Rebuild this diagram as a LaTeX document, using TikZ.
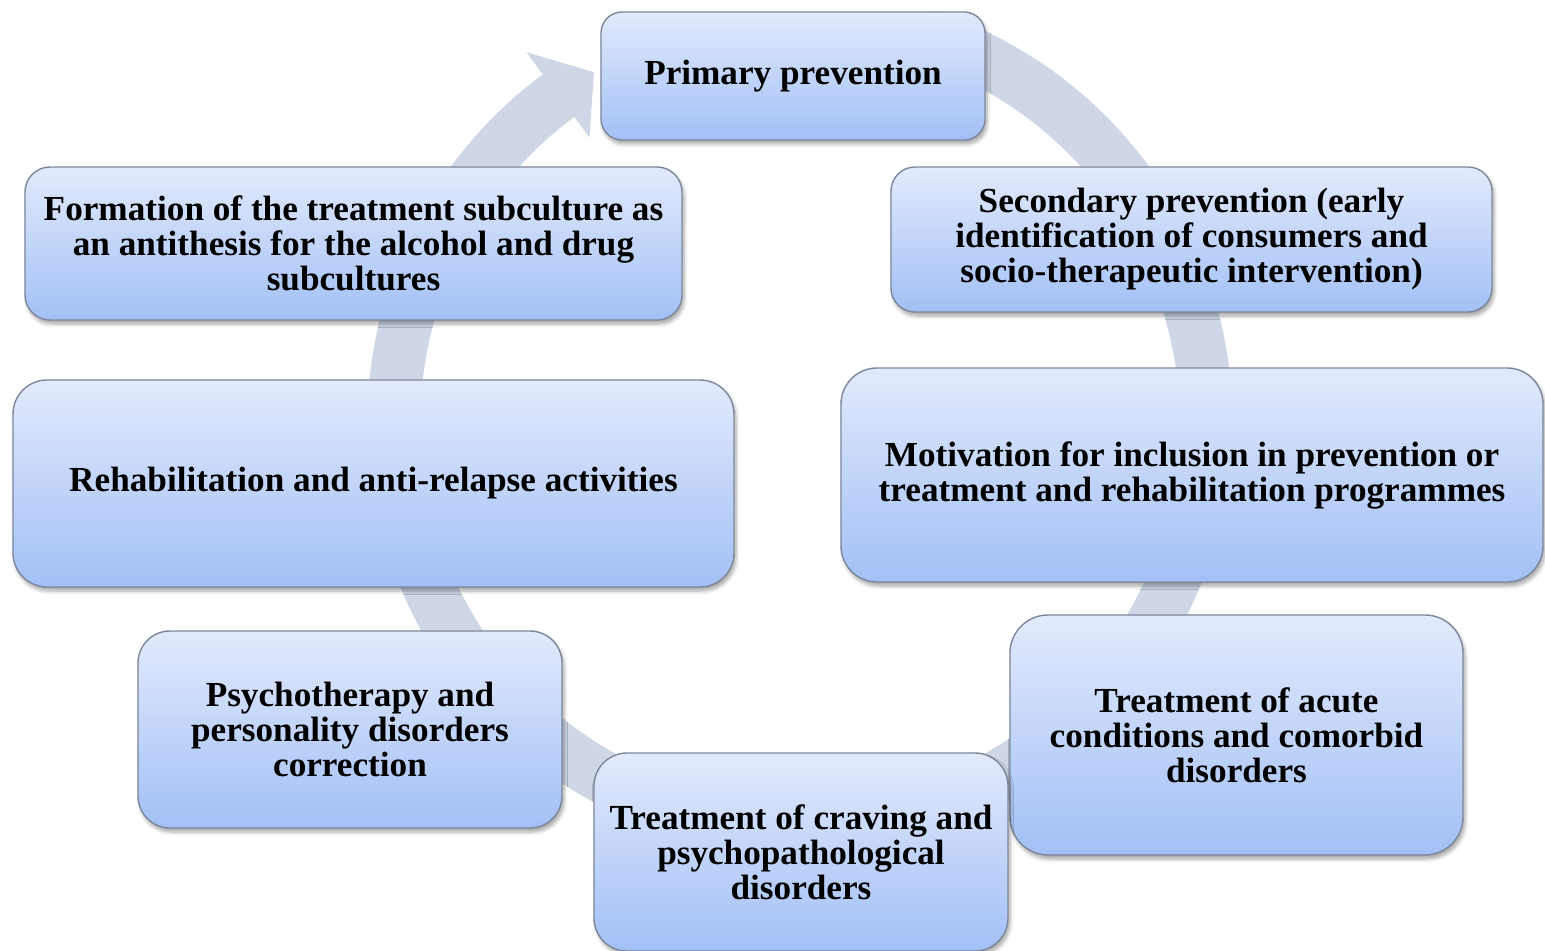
\documentclass[tikz,border=0pt]{standalone}
\usepackage{fontspec}
\setmainfont{Liberation Serif}
\usetikzlibrary{shadows.blur}
\definecolor{boxtop}{RGB}{226,234,252}
\definecolor{boxbot}{RGB}{162,192,246}
\definecolor{ringc}{RGB}{207,215,231}
\definecolor{boxline}{RGB}{125,135,155}

\begin{document}
\begin{tikzpicture}[x=0.5pt, y=-0.5pt,
     stage/.style = {rectangle, draw=boxline, line width=0.7pt,
                     top color=boxtop, bottom color=boxbot,
                     align=center, inner sep=0pt,
                     font=\bfseries\fontsize{17.6pt}{17.5pt}\selectfont,
                     blur shadow={shadow xshift=1pt, shadow yshift=-2pt,
                                  shadow blur steps=6, shadow opacity=35}},
      ring/.style = {ringc, line width=26.5pt}
                        ]
\useasboundingbox (0,0) rectangle (1545,951);
\coordinate (ctr) at (800,422);
% the cycle arrow behind the boxes
\draw[ring] ([shift={(72:203pt)}]ctr) arc[start angle=72, end angle=-234, radius=203pt];
\fill[ringc] ([shift={(126.5:177pt)}]ctr) -- ([shift={(120.5:203pt)}]ctr)
             -- ([shift={(126.5:230pt)}]ctr) -- cycle;
% stages
\node (prim)  [stage, minimum width=192pt,   minimum height=64pt,    rounded corners=10.5pt] at (793,76)
      {Primary prevention};
\node (secnd) [stage, minimum width=300.5pt, minimum height=72.5pt,  rounded corners=12pt]   at (1191.5,239.5)
      {Secondary prevention (early\\identification of consumers and\\socio-therapeutic intervention)};
\node (form)  [stage, minimum width=328.5pt, minimum height=76.5pt,  rounded corners=12.5pt] at (353.5,243.5)
      {Formation of the treatment subculture as\\an antithesis for the alcohol and drug\\subcultures};
\node (rehab) [stage, minimum width=360.5pt, minimum height=103.5pt, rounded corners=17pt]   at (373.5,483.5)
      {Rehabilitation and anti-relapse activities};
\node (motiv) [stage, minimum width=351pt,   minimum height=107pt,   rounded corners=18pt]   at (1192,475)
      {Motivation for inclusion in prevention or\\treatment and rehabilitation programmes};
\node (psych) [stage, minimum width=212pt,   minimum height=98.5pt,  rounded corners=16pt]   at (350,729.5)
      {Psychotherapy and\\personality disorders\\correction};
\node (acute) [stage, minimum width=226.5pt, minimum height=120pt,   rounded corners=19pt]   at (1236.5,735)
      {Treatment of acute\\conditions and comorbid\\disorders};
\node (crav)  [stage, minimum width=207pt,   minimum height=99pt,    rounded corners=16.5pt] at (801,852)
      {Treatment of craving and\\psychopathological\\disorders};
\end{tikzpicture}
\end{document}
